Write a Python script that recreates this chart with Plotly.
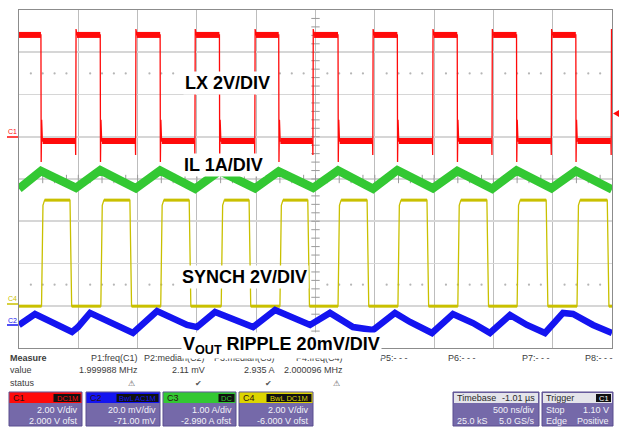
import numpy as np
import plotly.graph_objects as go

# ---------------- data ----------------
# time axis: 500 ns/div, 10 divisions -> 0 .. 5 us
t_per_div_us = 0.5
n_div_x = 10
n_div_y = 8

# channel settings (C1=LX, C2=VOUT ripple, C3=IL, C4=SYNCH)
ch_names = ["C1", "C2", "C3", "C4"]
ch_per_div = [2.0, 20.0, 1.0, 2.0]          # V, mV, A, V per division
ch_offset = [2.0, -71.0, -2.99, -6.0]       # V, mV, A, V
ch_coupling = ["DC1M", "BwL AC1M", "DC", "BwL DC1M"]
ch_scale_txt = ["2.00 V/div", "20.0 mV/div", "1.00 A/div", "2.00 V/div"]
ch_offset_txt = ["2.000 V ofst", "-71.00 mV", "-2.990 A ofst", "-6.000 V ofst"]

# LX (C1), volts
lx_fall_us = [0.185, 0.685, 1.19, 1.69, 2.19, 2.69, 3.19, 3.695, 4.195, 4.695]
lx_rise_us = [0.48, 0.985, 1.485, 1.99, 2.48, 2.985, 3.49, 3.99, 4.49, 4.995]
lx_high_v = 4.82
lx_low_v = -0.2
lx_undershoot_v = -1.2
lx_ring_v = 0.8
lx_predip_v = -0.86
lx_overshoot_v = 5.1
lx_trigger_v = 1.10

# IL (C3), amps
il_t_us = [0.0, 0.185, 0.48, 0.685, 0.985, 1.19, 1.485, 1.69, 1.99, 2.19, 2.48,
           2.69, 2.985, 3.19, 3.49, 3.695, 3.99, 4.195, 4.49, 4.695, 5.0]
il_a = [2.76, 3.18, 2.78, 3.20, 2.77, 3.19, 2.76, 3.18, 2.77, 3.17, 2.78,
        3.19, 2.76, 3.20, 2.77, 3.18, 2.76, 3.19, 2.77, 3.18, 2.74]

# SYNCH (C4), volts
sy_rise_us = [0.19, 0.69, 1.195, 1.705, 2.20, 2.69, 3.195, 3.70, 4.20, 4.705]
sy_fall_us = [0.43, 0.935, 1.435, 1.94, 2.435, 2.935, 3.44, 3.945, 4.445, 4.96]
sy_high_v = 5.0
sy_low_v = -0.02

# VOUT ripple (C2), millivolts
vo_t_us = [0.000, 0.135, 0.447, 0.497, 0.599, 0.767, 0.961, 1.164, 1.417, 1.501,
           1.653, 1.973, 2.159, 2.454, 2.622, 2.816, 2.985, 3.170, 3.297, 3.482,
           3.659, 3.828, 3.971, 4.140, 4.283, 4.435, 4.587, 4.671, 4.840, 5.000]
vo_mv = [1.9, 7.1, -1.4, 0.9, 7.6, 3.3, -1.9, 8.5, 1.9, 0.9,
         8.0, 0.9, 9.0, 1.9, 7.6, 0.9, -0.5, 7.6, 3.3, -1.9,
         7.1, 2.8, -1.9, 6.6, 1.9, -1.9, 7.6, 7.1, 1.9, -1.9]

# measurement table
meas_names = ["P1:freq(C1)", "P2:median(C2)", "P3:median(C3)", "P4:freq(C4)",
              "P5:- - -", "P6:- - -", "P7:- - -", "P8:- - -"]
meas_values = ["1.999988 MHz", "2.11 mV", "2.935 A", "2.000096 MHz", "", "", "", ""]
meas_status = ["warn", "ok", "ok", "warn", "", "", "", ""]

timebase_txt = ["Timebase", "-1.01 \u00b5s", "500 ns/div", "25.0 kS", "5.0 GS/s"]
trigger_txt = ["Trigger", "C1", "Stop", "1.10 V", "Edge", "Positive"]

labels = ["<b>LX 2V/DIV</b>", "<b>IL 1A/DIV</b>", "<b>SYNCH 2V/DIV</b>",
          "<b>V<sub>OUT</sub> RIPPLE 20mV/DIV</b>"]

# ---------------- helpers ----------------
W, H = 620, 427
L, R, T, B = 19, 612, 10, 348


def PX(x):
    return (x - L) / (R - L)


def PY(y):
    return (B - y) / (B - T)


def ch_range(i):
    c = -ch_offset[i]
    return [c - 4 * ch_per_div[i], c + 4 * ch_per_div[i]]


RED = "#ff0a0a"
GREEN = "#33c833"
YELLOW = "#c9c000"
BLUE = "#1414f0"

fig = go.Figure()

# ---- graticule decorations (dots and centre ticks) ----
dot_t = [k * 0.1 for k in range(1, 50) if k % 5 != 0]
for dv in (6.5, 1.5):
    yv = ch_range(0)[0] + dv * ch_per_div[0]
    fig.add_trace(go.Scatter(x=dot_t, y=[yv] * len(dot_t), mode="markers",
                             marker=dict(size=2.2, color="#b5b5b5"),
                             hoverinfo="skip", showlegend=False))
tick_t = [k * 0.1 for k in range(1, 50)]
fig.add_trace(go.Scatter(x=tick_t, y=[ch_range(0)[0] + 4 * ch_per_div[0]] * len(tick_t),
                         mode="markers",
                         marker=dict(symbol="line-ns", size=6, line=dict(width=1, color="#9a9a9a")),
                         hoverinfo="skip", showlegend=False))
tick_v = [ch_range(0)[0] + k * 0.2 * ch_per_div[0] for k in range(1, 40)]
fig.add_trace(go.Scatter(x=[2.5] * len(tick_v), y=tick_v, mode="markers",
                         marker=dict(symbol="line-ew", size=6, line=dict(width=1, color="#9a9a9a")),
                         hoverinfo="skip", showlegend=False))

# ---- LX ----
lt, lv = [0.0], [lx_high_v]
for f, r in zip(lx_fall_us, lx_rise_us):
    lt += [f, f + 0.002, f + 0.006, f + 0.012, r - 0.004, r - 0.002, r + 0.001, r + 0.008]
    lv += [lx_high_v, lx_undershoot_v, lx_ring_v, lx_low_v, lx_low_v, lx_predip_v,
           lx_overshoot_v, lx_high_v]
bt, bv = [0.0, lx_fall_us[0]], [lx_high_v, lx_high_v]
for i, (f, r) in enumerate(zip(lx_fall_us, lx_rise_us)):
    nxt = lx_fall_us[i + 1] if i + 1 < len(lx_fall_us) else 5.0
    bt += [None, f + 0.014, r - 0.005, None, r + 0.008, nxt]
    bv += [None, lx_low_v, lx_low_v, None, lx_high_v, lx_high_v]
fig.add_trace(go.Scatter(x=lt, y=lv, mode="lines", line=dict(color=RED, width=1.3),
                         yaxis="y", hoverinfo="skip", showlegend=False))
fig.add_trace(go.Scatter(x=bt, y=bv, mode="lines", line=dict(color=RED, width=6),
                         yaxis="y", hoverinfo="skip", showlegend=False))

# ---- IL ----
fig.add_trace(go.Scatter(x=il_t_us, y=il_a, mode="lines", line=dict(color=GREEN, width=8.5),
                         yaxis="y2", hoverinfo="skip", showlegend=False))

# ---- SYNCH ----
st, sv = [0.0], [sy_low_v]
sbt, sbv = [0.0, sy_rise_us[0]], [sy_low_v, sy_low_v]
for i, (r, f) in enumerate(zip(sy_rise_us, sy_fall_us)):
    st += [r, r + 0.012, r + 0.026, f, f + 0.014]
    sv += [sy_low_v, sy_high_v - 0.25, sy_high_v, sy_high_v, sy_low_v]
    nxt = sy_rise_us[i + 1] if i + 1 < len(sy_rise_us) else 5.0
    sbt += [None, r + 0.026, f, None, f + 0.014, nxt]
    sbv += [None, sy_high_v, sy_high_v, None, sy_low_v, sy_low_v]
st.append(5.0)
sv.append(sy_low_v)
fig.add_trace(go.Scatter(x=st, y=sv, mode="lines", line=dict(color=YELLOW, width=1.3),
                         yaxis="y3", hoverinfo="skip", showlegend=False))
fig.add_trace(go.Scatter(x=sbt, y=sbv, mode="lines", line=dict(color=YELLOW, width=3),
                         yaxis="y3", hoverinfo="skip", showlegend=False))

# ---- VOUT ripple ----
fig.add_trace(go.Scatter(x=vo_t_us, y=vo_mv, mode="lines", line=dict(color=BLUE, width=6.5),
                         yaxis="y4", hoverinfo="skip", showlegend=False))

# ---------------- layout ----------------
grid_x = dict(range=[0, n_div_x * t_per_div_us], dtick=t_per_div_us, tick0=0,
              showgrid=True, gridcolor="#bdbdbd", gridwidth=1, zeroline=False,
              showticklabels=False, ticks="", showline=True, mirror=True,
              linecolor="#8c8c8c", linewidth=1.2, fixedrange=True)
fig.update_layout(
    width=W, height=H,
    margin=dict(l=L, r=W - R, t=T, b=H - B, pad=0),
    paper_bgcolor="white", plot_bgcolor="white",
    xaxis=grid_x,
    yaxis=dict(range=ch_range(0), dtick=ch_per_div[0], tick0=ch_range(0)[0],
               showgrid=True, gridcolor="#d6d6d6", gridwidth=1.6, zeroline=False,
               showticklabels=False, ticks="", showline=True, mirror=True,
               linecolor="#8c8c8c", linewidth=1.2, fixedrange=True),
    yaxis2=dict(range=ch_range(2), overlaying="y", visible=False, fixedrange=True),
    yaxis3=dict(range=ch_range(3), overlaying="y", visible=False, fixedrange=True),
    yaxis4=dict(range=ch_range(1), overlaying="y", visible=False, fixedrange=True),
    showlegend=False,
    font=dict(family="Liberation Sans, Arial, sans-serif"),
)

ann = []
shapes = []

# channel ground markers on the left
marker_info = [("C1", RED, 131, 137), ("C4", YELLOW, 298, 304), ("C2", BLUE, 320, 325)]
for name, col, ty, ly in marker_info:
    ann.append(dict(text=name, x=PX(12), y=PY(ty), xref="paper", yref="paper",
                    xanchor="center", yanchor="middle", showarrow=False,
                    font=dict(size=7, color=col)))
    shapes.append(dict(type="line", xref="paper", yref="paper", x0=PX(7), x1=PX(18),
                       y0=PY(ly), y1=PY(ly), line=dict(color=col, width=1.5)))

# trigger level marker at right edge
trig_div = (lx_trigger_v - ch_range(0)[0]) / ch_per_div[0]
ty = B - trig_div * (B - T) / n_div_y
shapes.append(dict(type="path", xref="paper", yref="paper",
                   path=f"M {PX(613)} {PY(ty)} L {PX(619)} {PY(ty - 3.5)} L {PX(619)} {PY(ty + 3.5)} Z",
                   fillcolor=RED, line=dict(color=RED, width=0)))

# measurement table
TXT = "#3c3c3c"
small = dict(size=9, color=TXT, family="Liberation Sans, Arial")
for txt, y in (("<b>Measure</b>", 358), ("value", 370), ("status", 383)):
    ann.append(dict(text=txt, x=PX(8), y=PY(y), xref="paper", yref="paper",
                    xanchor="left", yanchor="middle", showarrow=False, font=small))
col_right = [140, 207, 277, 345, 410, 478, 552, 615]
for name, val, st_, xr in zip(meas_names, meas_values, meas_status, col_right):
    ann.append(dict(text=name, x=PX(xr), y=PY(358), xref="paper", yref="paper",
                    xanchor="right", yanchor="middle", showarrow=False, font=small))
    if val:
        ann.append(dict(text=val, x=PX(xr), y=PY(370), xref="paper", yref="paper",
                        xanchor="right", yanchor="middle", showarrow=False, font=small))
    if st_:
        sym = "\u26a0" if st_ == "warn" else "\u2714"
        ann.append(dict(text=sym, x=PX(xr - 3), y=PY(383), xref="paper", yref="paper",
                        xanchor="right", yanchor="middle", showarrow=False,
                        font=dict(size=8, color="#555555")))

# channel boxes
PURPLE = "#7569a9"
PBORDER = "#5a4f8f"
head_cols = [RED, BLUE, GREEN, "#dcd400"]
box_x = [(9, 82), (86, 160), (163, 236), (239, 313)]
tag_w = [27, 42, 16, 45]
for i, (x0, x1) in enumerate(box_x):
    shapes.append(dict(type="rect", xref="paper", yref="paper", x0=PX(x0), x1=PX(x1),
                       y0=PY(426), y1=PY(392), fillcolor=PURPLE,
                       line=dict(color=PBORDER, width=1)))
    shapes.append(dict(type="rect", xref="paper", yref="paper", x0=PX(x0 + 0.5), x1=PX(x1 - 0.5),
                       y0=PY(403), y1=PY(392.5), fillcolor=head_cols[i],
                       line=dict(width=0)))
    shapes.append(dict(type="rect", xref="paper", yref="paper", x0=PX(x1 - 1.5 - tag_w[i]),
                       x1=PX(x1 - 1.5), y0=PY(402), y1=PY(394), fillcolor="#101010",
                       line=dict(width=0)))
    ann.append(dict(text=ch_names[i], x=PX(x0 + 2), y=PY(398), xref="paper", yref="paper",
                    xanchor="left", yanchor="middle", showarrow=False,
                    font=dict(size=9, color="#2a1010")))
    ann.append(dict(text=ch_coupling[i], x=PX(x1 - 1.5 - tag_w[i] / 2), y=PY(398),
                    xref="paper", yref="paper", xanchor="center", yanchor="middle",
                    showarrow=False, font=dict(size=7.5, color=head_cols[i])))
    ann.append(dict(text=ch_scale_txt[i], x=PX(x1 - 2), y=PY(410), xref="paper", yref="paper",
                    xanchor="right", yanchor="middle", showarrow=False,
                    font=dict(size=9, color="#f2f2f8")))
    ann.append(dict(text=ch_offset_txt[i], x=PX(x1 - 2), y=PY(420.5), xref="paper", yref="paper",
                    xanchor="right", yanchor="middle", showarrow=False,
                    font=dict(size=9, color="#f2f2f8")))

# timebase & trigger boxes
for (x0, x1) in ((453, 539), (542, 613)):
    shapes.append(dict(type="rect", xref="paper", yref="paper", x0=PX(x0), x1=PX(x1),
                       y0=PY(426), y1=PY(392), fillcolor=PURPLE,
                       line=dict(color=PBORDER, width=1)))
    shapes.append(dict(type="rect", xref="paper", yref="paper", x0=PX(x0 + 1), x1=PX(x1 - 1),
                       y0=PY(403), y1=PY(393), fillcolor="#e4e4ea",
                       line=dict(width=0)))
shapes.append(dict(type="rect", xref="paper", yref="paper", x0=PX(596), x1=PX(611),
                   y0=PY(402), y1=PY(394), fillcolor="#101010", line=dict(width=0)))
wtxt = dict(size=9, color="#f2f2f8", family="Liberation Sans, Arial")
dtxt = dict(size=9, color="#2a2a2a", family="Liberation Sans, Arial")
tb = [(timebase_txt[0], 455, 398, "left", dtxt), (timebase_txt[1], 537, 398, "right", dtxt),
      (timebase_txt[2], 537, 410, "right", wtxt), (timebase_txt[3], 455, 420.5, "left", wtxt),
      (timebase_txt[4], 537, 420.5, "right", wtxt),
      (trigger_txt[0], 544, 398, "left", dtxt),
      (trigger_txt[1], 603.5, 398, "center", dict(size=7.5, color="#ffffff")),
      (trigger_txt[2], 544, 410, "left", wtxt), (trigger_txt[3], 611, 410, "right", wtxt),
      (trigger_txt[4], 544, 420.5, "left", wtxt), (trigger_txt[5], 611, 420.5, "right", wtxt)]
for txt, x, y, xa, fnt in tb:
    ann.append(dict(text=txt, x=PX(x), y=PY(y), xref="paper", yref="paper",
                    xanchor=xa, yanchor="middle", showarrow=False, font=fnt))

# waveform labels with white boxes (drawn last, on top)
lab_pos = [(183, 83), (182, 165), (180, 277), (181, 345)]
for txt, (x, y) in zip(labels, lab_pos):
    ann.append(dict(text=txt, x=PX(x), y=PY(y), xref="paper", yref="paper",
                    xanchor="left", yanchor="middle", showarrow=False,
                    bgcolor="white", borderpad=1,
                    font=dict(size=18, color="black", family="Liberation Sans, Arial")))

fig.update_layout(annotations=ann, shapes=shapes)
fig.write_html("out.html", config={"displayModeBar": False, "staticPlot": True},
               post_script="document.body.style.margin='0';document.body.style.overflow='hidden';")
